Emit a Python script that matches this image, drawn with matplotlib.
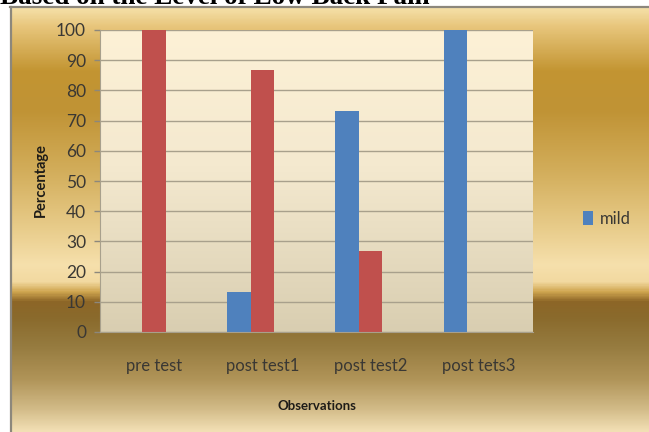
import numpy as np
import matplotlib.pyplot as plt
from matplotlib.colors import LinearSegmentedColormap
from matplotlib.patches import Patch
from matplotlib.lines import Line2D

# ---- data -------------------------------------------------------------
categories = ["pre test", "post test1", "post test2", "post tets3"]
mild = [0, 13.33, 73.33, 100]
moderate = [100, 86.67, 26.67, 0]
severe = [0, 0, 0, 0]
yticks = list(range(0, 101, 10))

# ---- styling ------------------------------------------------------------
W, H = 649, 432
FONT = ["Lato", "DejaVu Sans"]
BLUE, RED, GREEN = "#4f81bd", "#c0504d", "#9bbb59"
TXT = "#3a3834"

# vertical gold gradient of the chart frame: (pixel row, colour)
frame_stops = [(7, "#f5e0a8"), (25, "#e8c67c"), (70, "#c39532"), (110, "#c09335"),
               (170, "#d2ad5a"), (230, "#e9cd8c"), (265, "#f6e0ac"), (282, "#f2d9a0"),
               (292, "#d0a650"), (302, "#8d6627"), (318, "#8a6a2c"), (345, "#957a3e"),
               (380, "#b09458"), (410, "#d2bb88"), (432, "#f2dfb4")]
# plot-area gradient, from top (0) to bottom (1)
plot_stops = [(0.0, "#fdf1d6"), (0.45, "#f4e9cf"), (1.0, "#d9ceb1")]

fig = plt.figure(figsize=(W / 100, H / 100), dpi=100)
fig.patch.set_facecolor("white")

# heading line, mostly covered by the chart frame
fig.text(0.0, 1 - 4 / H, "Based on the Level of Low Back Pain",
         family="Liberation Serif", weight="bold", fontsize=19.5,
         ha="left", va="baseline", color="black", zorder=0)

# chart frame with gold gradient
top_px = 7
bg = fig.add_axes([10 / W, 0, 1 - 10 / W, 1 - top_px / H], zorder=1)
span = H - top_px
cmap_frame = LinearSegmentedColormap.from_list(
    "frame", [((y - top_px) / span, c) for y, c in frame_stops])
grad = np.linspace(0, 1, 600).reshape(-1, 1)
bg.imshow(grad, aspect="auto", cmap=cmap_frame, extent=[0, 1, 1, 0],
          interpolation="bilinear")
bg.set_xlim(0, 1)
bg.set_ylim(1, 0)
bg.axis("off")

# frame border (left and top edges)
fig.add_artist(Line2D([10.5 / W, 10.5 / W], [0, 1 - top_px / H], color="#8c877c",
                      lw=1.6, transform=fig.transFigure, zorder=2))
fig.add_artist(Line2D([10 / W, 1], [1 - top_px / H, 1 - top_px / H], color="#8c877c",
                      lw=1.6, transform=fig.transFigure, zorder=2))

# plot area
ax = fig.add_axes([100 / W, (H - 332) / H, 433 / W, 302 / H], zorder=3)
cmap_plot = LinearSegmentedColormap.from_list("plot", plot_stops)
ax.imshow(np.linspace(1, 0, 300).reshape(-1, 1), aspect="auto", cmap=cmap_plot,
          origin="lower", extent=[-0.5, 3.5, 0, 100], interpolation="bilinear",
          zorder=0)

x = np.arange(len(categories))
w = 0.217
ax.bar(x - w, mild, w, color=BLUE, zorder=2, label="mild")
ax.bar(x, moderate, w, color=RED, zorder=2)
ax.bar(x + w, severe, w, color=GREEN, zorder=2)

ax.set_xlim(-0.5, 3.5)
ax.set_ylim(0, 100)
ax.set_yticks(yticks)
ax.set_axisbelow(True)
ax.yaxis.grid(True, color="#a8a08c", lw=1.0)
ax.set_xticks(x)
ax.set_xticklabels(categories)

for s in ("top", "right"):
    ax.spines[s].set_visible(False)
ax.spines["left"].set_color("#a8a08c")
ax.spines["bottom"].set_color("#a8a08c")

ax.tick_params(axis="y", length=4, width=1, color="#8c877c", pad=6,
               labelsize=12.5, labelcolor=TXT)
ax.tick_params(axis="x", length=0, pad=19, labelsize=12, labelcolor=TXT)
for lab in ax.get_xticklabels() + ax.get_yticklabels():
    lab.set_family(FONT)

fig.text(41 / W, 1 - 180 / H, "Percentage", rotation=90, ha="center", va="center",
         family=FONT, weight="bold", fontsize=10.5, color="#1e1c18", zorder=5)
fig.text(316.5 / W, 1 - 406 / H, "Observations", ha="center", va="center",
         family=FONT, weight="bold", fontsize=9.5, color="#1e1c18", zorder=5)

leg = fig.legend(handles=[Patch(facecolor=BLUE)], labels=["mild"],
                 loc="center left", bbox_to_anchor=(583 / W, 1 - 219 / H),
                 frameon=False, handlelength=0.6, handleheight=0.9,
                 handletextpad=0.4, borderpad=0, borderaxespad=0,
                 prop={"family": FONT, "size": 12})
for t in leg.get_texts():
    t.set_color(TXT)
leg.set_zorder(5)

fig.savefig("out.png", dpi=100)
